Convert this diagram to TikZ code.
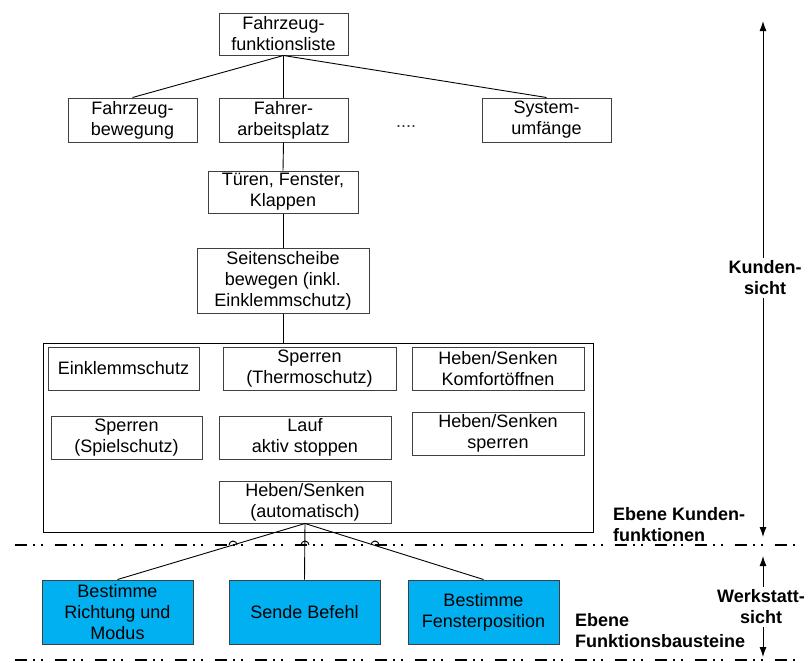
\documentclass[tikz,border=0pt]{standalone}
\usepackage{fontspec}
\setmainfont{Liberation Sans}
\usetikzlibrary{arrows.meta,positioning,calc}
\definecolor{bausteinblau}{HTML}{00B0F0}

\begin{document}
\begin{tikzpicture}[x=1pt,y=-1pt,
    box/.style={draw=black!75, line width=1pt, align=center, inner sep=0pt,
        font=\fontsize{18}{21}\selectfont},
    baustein/.style={box, fill=bausteinblau, minimum width=151, minimum height=64},
    ebene/.style={anchor=west, align=left, inner sep=0pt,
        font=\bfseries\fontsize{18}{21}\selectfont},
    sicht/.style={align=center, inner sep=3pt,
        font=\bfseries\fontsize{18}{21}\selectfont},
    verbindung/.style={line width=0.9pt},
    grenze/.style={line width=2pt,
        dash pattern=on 12pt off 6pt on 2pt off 6pt on 2pt off 12pt},
    pfeil/.style={line width=1pt, -{Latex[length=10pt,width=7pt]}}]

    \useasboundingbox (0,0) rectangle (809,662);

    % Funktionsbaum oben
    \node[box, minimum width=129, minimum height=42] (liste) at (283.5,34) {Fahrzeug-\\funktionsliste};
    \node[box, minimum width=129, minimum height=44] (bewegung) at (132.5,120) {Fahrzeug-\\bewegung};
    \node[box, minimum width=129, minimum height=44] (arbeitsplatz) at (283.5,120) {Fahrer-\\arbeitsplatz};
    \node[font=\fontsize{18}{21}\selectfont, text=black!80] (weitere) at (406,127) {....};
    \node[box, minimum width=129, minimum height=44] (umfaenge) at (546.5,120) {System-\\umfänge};
    \node[box, minimum width=150, minimum height=42] (tueren) at (283,192) {Türen, Fenster,\\Klappen};
    \node[box, minimum width=172, minimum height=65] (scheibe) at (283,280.5) {Seitenscheibe\\bewegen (inkl.\\Einklemmschutz)};

    \draw[verbindung] (liste.south) -- (bewegung.north);
    \draw[verbindung] (liste.south) -- (arbeitsplatz.north);
    \draw[verbindung] (liste.south) -- (umfaenge.north);
    \draw[verbindung] (arbeitsplatz.south) -- (tueren.north);
    \draw[verbindung] (tueren.south) -- (scheibe.north);

    % Kundenfunktionen im Rahmen
    \node[draw, line width=1pt, minimum width=550, minimum height=189] (rahmen) at (318,437.5) {};
    \node[box, minimum width=151, minimum height=43] (einklemm) at (123.5,368.5) {Einklemmschutz};
    \node[box, minimum width=173, minimum height=43] (thermo) at (309.5,368.5) {Sperren\\(Thermoschutz)};
    \node[box, minimum width=172, minimum height=43] (komfort) at (498,368.5) {Heben/Senken\\Komfortöffnen};
    \node[box, minimum width=151, minimum height=43] (spiel) at (126.5,437.5) {Sperren\\(Spielschutz)};
    \node[box, minimum width=172, minimum height=43] (lauf) at (305,437.5) {Lauf\\aktiv stoppen};
    \node[box, minimum width=172, minimum height=43] (hsperren) at (498,433.5) {Heben/Senken\\sperren};
    \node[box, minimum width=172, minimum height=42] (auto) at (305,502) {Heben/Senken\\(automatisch)};

    \draw[verbindung] (scheibe.south) -- (scheibe.south |- rahmen.north);

    % Funktionsbausteine
    \node[baustein] (richtung) at (117.5,612) {Bestimme\\Richtung und\\Modus};
    \node[baustein] (befehl) at (304.5,612) {Sende Befehl};
    \node[baustein] (position) at (483.5,612) {Bestimme\\Fensterposition};

    \draw[verbindung] (auto.south) -- (richtung.north);
    \draw[verbindung] (auto.south) -- (befehl.north);
    \draw[verbindung] (auto.south) -- (position.north);

    % Ebenengrenzen
    \coordinate (grenze1 links) at (15,545);
    \coordinate (grenze1 rechts) at (800,545);
    \coordinate (grenze2 links) at (15,660);
    \coordinate (grenze2 rechts) at (800,660);
    \draw[grenze] (grenze1 links) -- (grenze1 rechts);
    \draw[grenze] (grenze2 links) -- (grenze2 rechts);
    % Sprungboegen
    \foreach \xh in {229,301,371}
        \draw[line width=1pt] (\xh,545) arc[start angle=180, end angle=360, radius=4];

    \node[ebene] (ebene kunden) at (613,524.5) {Ebene Kunden-\\funktionen};
    \node[ebene] (ebene bausteine) at (575,631) {Ebene\\Funktionsbausteine};

    % Sichten rechts
    \node[sicht] (kunden) at (765,278) {Kunden-\\sicht};
    \coordinate (kunden oben) at (763,21);
    \coordinate (kunden unten) at (763,537);
    \draw[pfeil] (kunden.north -| kunden oben) -- (kunden oben);
    \draw[pfeil] (kunden.south -| kunden unten) -- (kunden unten);

    \node[sicht] (werkstatt) at (761,607) {Werkstatt-\\sicht};
    \coordinate (werkstatt oben) at (763,556);
    \coordinate (werkstatt unten) at (763,657);
    \draw[pfeil] (werkstatt.north -| werkstatt oben) -- (werkstatt oben);
    \draw[pfeil] (werkstatt.south -| werkstatt unten) -- (werkstatt unten);
\end{tikzpicture}
\end{document}
